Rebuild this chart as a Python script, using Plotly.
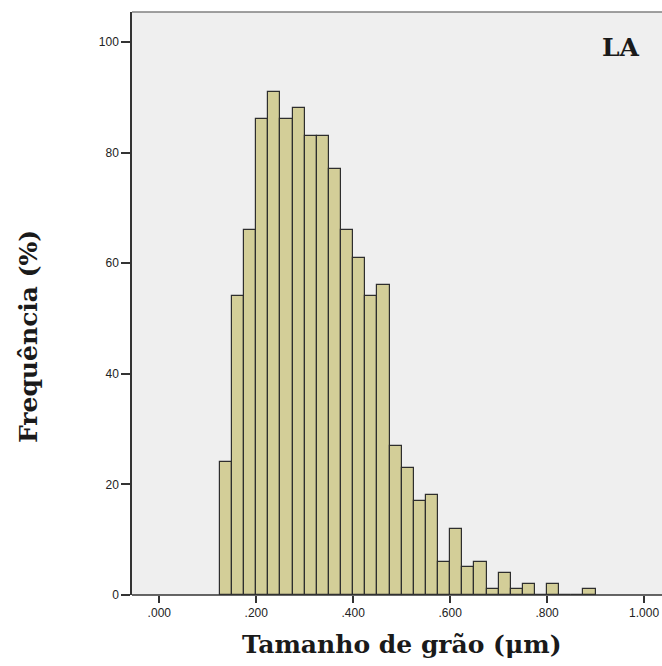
import plotly.graph_objects as go

# Grain-size histogram, 0.025 µm bins (left edge of each bin)
bin_left = [0.125, 0.150, 0.175, 0.200, 0.225, 0.250, 0.275, 0.300, 0.325, 0.350,
            0.375, 0.400, 0.425, 0.450, 0.475, 0.500, 0.525, 0.550, 0.575, 0.600,
            0.625, 0.650, 0.675, 0.700, 0.725, 0.750, 0.775, 0.800, 0.825, 0.850,
            0.875]
frequency = [24, 54, 66, 86, 91, 86, 88, 83, 83, 77,
             66, 61, 54, 56, 27, 23, 17, 18, 6, 12,
             5, 6, 1, 4, 1, 2, 0, 2, 0, 0,
             1]
bin_width = 0.025

x_tick_vals = [0.0, 0.2, 0.4, 0.6, 0.8, 1.0]
x_tick_text = [".000", ".200", ".400", ".600", ".800", "1.000"]
y_tick_vals = [0, 20, 40, 60, 80, 100]

fig = go.Figure(
    go.Bar(
        x=bin_left,
        y=frequency,
        width=bin_width,
        offset=0,
        marker=dict(color="#d3ce98", line=dict(color="#2e2e2e", width=1.2)),
        hoverinfo="x+y",
    )
)

fig.update_layout(
    width=662,
    height=666,
    margin=dict(l=132, r=0, t=12, b=71),
    paper_bgcolor="white",
    plot_bgcolor="#efefef",
    showlegend=False,
    bargap=0,
    font=dict(family="Liberation Sans, Arial, sans-serif", size=12, color="#222222"),
)

tick_font = dict(family="Liberation Sans, Arial, sans-serif", size=12, color="#222222")

fig.update_xaxes(
    range=[-0.0563, 1.037],
    tickvals=x_tick_vals,
    ticktext=x_tick_text,
    ticks="outside",
    ticklen=7,
    tickwidth=1.5,
    tickcolor="#333333",
    showgrid=False,
    zeroline=False,
    showline=False,
    tickfont=tick_font,
)
fig.update_yaxes(
    range=[0, 105.4],
    tickvals=y_tick_vals,
    ticks="outside",
    ticklen=9,
    tickwidth=1.5,
    tickcolor="#333333",
    showgrid=False,
    zeroline=False,
    showline=True,
    linecolor="#333333",
    linewidth=1.5,
    tickfont=tick_font,
)

# Frame: bottom axis line and grey top edge
fig.add_shape(type="line", xref="paper", yref="paper", x0=0, x1=1, y0=0, y1=0,
              line=dict(color="#333333", width=1.5))
fig.add_shape(type="line", xref="paper", yref="paper", x0=0, x1=1, y0=1, y1=1,
              line=dict(color="#808080", width=1.5))

title_font = dict(family="DejaVu Serif, Liberation Serif, serif", size=25, color="#1a1a1a")

fig.add_annotation(
    text="<b>Tamanho de grão (μm)</b>",
    xref="paper", yref="paper",
    x=(402 - 132) / 530, y=-(644 - 595) / 583,
    xanchor="center", yanchor="middle",
    showarrow=False, font=title_font,
)
fig.add_annotation(
    text="<b>Frequência (%)</b>",
    xref="paper", yref="paper",
    x=-(132 - 28) / 530, y=(595 - 337) / 583,
    xanchor="center", yanchor="middle",
    textangle=-90,
    showarrow=False, font=title_font,
)
fig.add_annotation(
    text="<b>LA</b>",
    xref="paper", yref="paper",
    x=(621 - 132) / 530, y=(595 - 48) / 583,
    xanchor="center", yanchor="middle",
    showarrow=False, font=dict(family="DejaVu Serif, Liberation Serif, serif", size=25, color="#1a1a1a"),
)

fig.write_html("out.html")
